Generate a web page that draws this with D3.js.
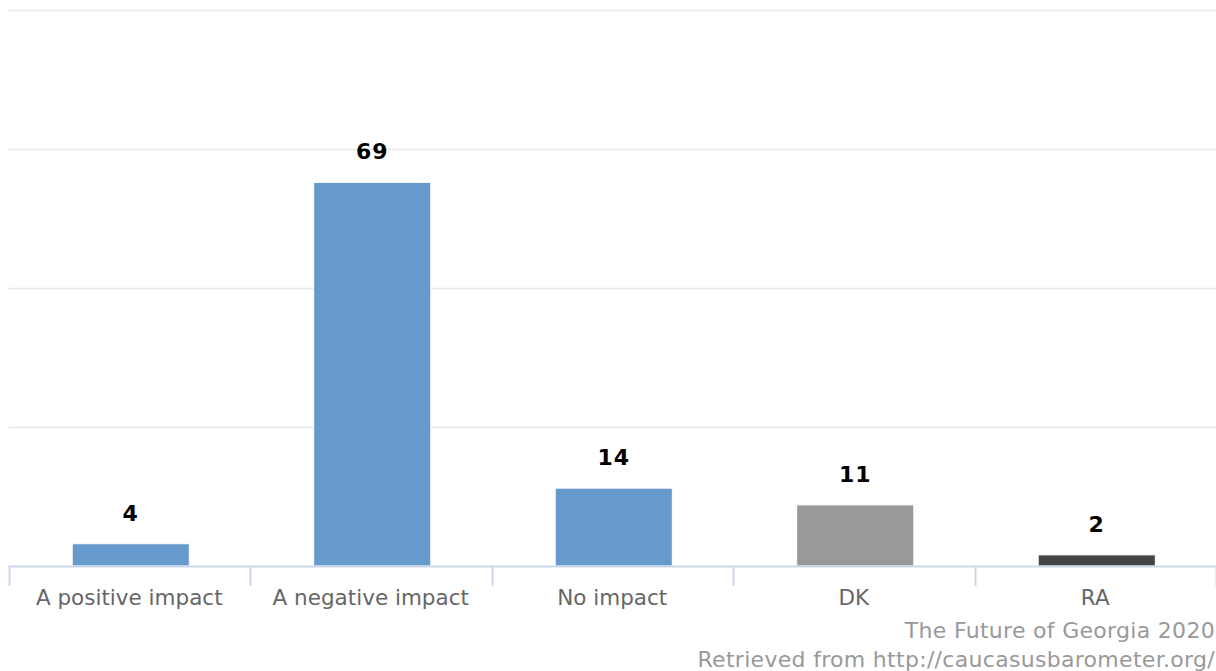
<!DOCTYPE html>
<html>
<head>
<meta charset="utf-8">
<script src="https://d3js.org/d3.v7.min.js"></script>
<style>
  body { margin: 0; background: #fff; }
  text { font-family: "DejaVu Sans", sans-serif; }
</style>
</head>
<body>
<div id="chart"></div>
<script>
var categories = ['A positive impact', 'A negative impact', 'No impact', 'DK', 'RA'];
var values = [4, 69, 14, 11, 2];
var barColors = ['#6699cc', '#6699cc', '#6699cc', '#999999', '#444444'];
var yTicks = [0, 25, 50, 75, 100];
var creditLines = ['The Future of Georgia 2020', 'Retrieved from http://caucasusbarometer.org/'];

var width = 1216, height = 671;
var plotLeft = 8.5, plotRight = 1216, plotTop = 10, plotBottom = 566;

var svg = d3.select('#chart').append('svg')
    .attr('width', width)
    .attr('height', height);

var xSlot = d3.scaleBand()
    .domain(categories)
    .range([plotLeft, plotRight])
    .padding(0);

var xBar = d3.scaleBand()
    .domain(categories)
    .range([plotLeft + 1.5, plotRight + 1.5])
    .paddingInner(0.515)
    .paddingOuter(0.2575);

var y = d3.scaleLinear()
    .domain([0, 100])
    .range([plotBottom, plotTop]);

// grid lines
svg.append('g')
    .selectAll('line')
    .data(yTicks.slice(1))
    .enter()
    .append('line')
    .attr('x1', plotLeft)
    .attr('x2', plotRight)
    .attr('y1', d => Math.round(y(d)) + 0.5)
    .attr('y2', d => Math.round(y(d)) + 0.5)
    .attr('stroke', '#e6e6e6')
    .attr('stroke-width', 1.5);

// bars
svg.append('g')
    .selectAll('rect')
    .data(values)
    .enter()
    .append('rect')
    .attr('x', (d, i) => xBar(categories[i]))
    .attr('y', d => y(d))
    .attr('width', xBar.bandwidth())
    .attr('height', d => y(0) - y(d))
    .attr('fill', (d, i) => barColors[i])
    .attr('stroke', '#ffffff')
    .attr('stroke-width', 1);

// data labels
svg.append('g')
    .selectAll('text')
    .data(values)
    .enter()
    .append('text')
    .attr('x', (d, i) => xBar(categories[i]) + xBar.bandwidth() / 2)
    .attr('y', d => y(d) - 23)
    .attr('text-anchor', 'middle')
    .attr('font-size', '22px')
    .attr('font-weight', 'bold')
    .attr('letter-spacing', '1px')
    .attr('fill', '#000')
    .text(d => d);

// x axis
var axis = svg.append('g');
axis.append('line')
    .attr('x1', plotLeft)
    .attr('x2', plotRight)
    .attr('y1', plotBottom + 0.5)
    .attr('y2', plotBottom + 0.5)
    .attr('stroke', '#ccd6eb')
    .attr('stroke-width', 2);

var bounds = categories.map(c => xSlot(c)).concat([plotRight]);
axis.selectAll('.tick')
    .data(bounds)
    .enter()
    .append('line')
    .attr('class', 'tick')
    .attr('x1', d => Math.round(d) + 0.5)
    .attr('x2', d => Math.round(d) + 0.5)
    .attr('y1', plotBottom)
    .attr('y2', plotBottom + 20)
    .attr('stroke', '#ccd6eb')
    .attr('stroke-width', 2);

axis.selectAll('.lbl')
    .data(categories)
    .enter()
    .append('text')
    .attr('class', 'lbl')
    .attr('x', d => xSlot(d) + xSlot.bandwidth() / 2)
    .attr('y', 605)
    .attr('text-anchor', 'middle')
    .attr('font-size', '21.5px')
    .attr('fill', '#666666')
    .text(d => d);

// credits
svg.append('g')
    .selectAll('text')
    .data(creditLines)
    .enter()
    .append('text')
    .attr('x', 1215)
    .attr('y', (d, i) => 638 + i * 29)
    .attr('text-anchor', 'end')
    .attr('font-size', '22px')
    .attr('letter-spacing', '0.3px')
    .attr('fill', '#999999')
    .text(d => d);
</script>
</body>
</html>
